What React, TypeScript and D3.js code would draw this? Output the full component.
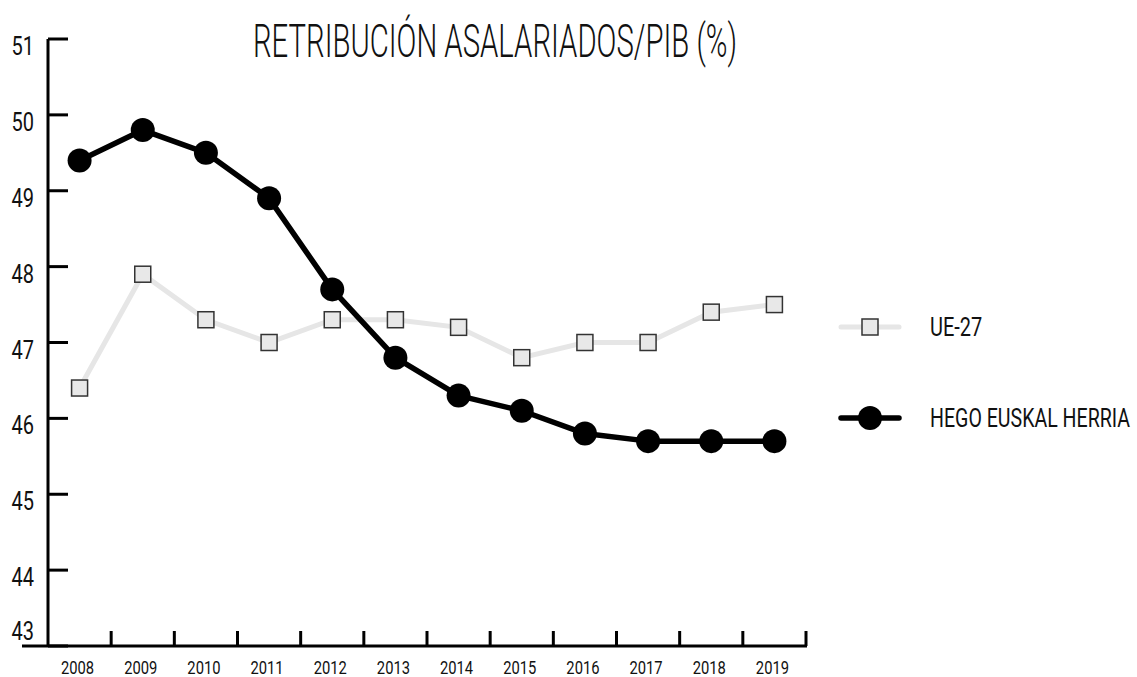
import React from 'react';
import * as d3 from 'd3';

const years = ['2008', '2009', '2010', '2011', '2012', '2013', '2014', '2015', '2016', '2017', '2018', '2019'];
const ue27 = [46.4, 47.9, 47.3, 47.0, 47.3, 47.3, 47.2, 46.8, 47.0, 47.0, 47.4, 47.5];
const hego = [49.4, 49.8, 49.5, 48.9, 47.7, 46.8, 46.3, 46.1, 45.8, 45.7, 45.7, 45.7];
const yTicks = [43, 44, 45, 46, 47, 48, 49, 50, 51];

const FONT = "Roboto, 'Liberation Sans', sans-serif";

// narrow text: the original uses a condensed face we don't have, so squeeze it
function Narrow(props: { x: number; y: number; size: number; anchor?: string; sx?: number; children: any }) {
  const { x, y, size, anchor, sx, children } = props;
  return (
    <text
      transform={`translate(${x},${y}) scale(${sx || 0.8},1)`}
      textAnchor={anchor || 'start'}
      fontFamily={FONT}
      fontSize={size}
      fill="#111"
    >
      {children}
    </text>
  );
}

export default function App() {
  const W = 1137;
  const H = 677;

  const x = d3.scaleBand().domain(years).range([48, 806]);
  const y = d3.scaleLinear().domain([43, 51]).range([646, 39]);
  const cx = (d: string) => (x(d) || 0) + x.bandwidth() / 2;

  const line = d3
    .line<number>()
    .x((d, i) => cx(years[i]))
    .y((d) => y(d));

  const tickXs = years.map((d) => (x(d) || 0) + x.bandwidth());

  return (
    <svg width={W} height={H} style={{ position: 'absolute', left: 0, top: 0, background: '#fff' }}>
      <text
        x={253}
        y={57}
        textLength={484}
        lengthAdjust="spacingAndGlyphs"
        fontFamily={FONT}
        fontWeight={300}
        fontSize={46}
        fill="#111"
      >
        RETRIBUCIÓN ASALARIADOS/PIB (%)
      </text>

      {/* y axis */}
      <line x1={48} x2={48} y1={y(51)} y2={y(43)} stroke="#000" strokeWidth={3} />
      {yTicks.map((t) => (
        <g key={t}>
          <line x1={48} x2={68} y1={y(t)} y2={y(t)} stroke="#000" strokeWidth={3} />
          <Narrow x={34} y={Math.min(y(t) + 16, 640)} size={25} anchor="end">
            {t}
          </Narrow>
        </g>
      ))}

      {/* x axis */}
      <line x1={22} x2={807} y1={646} y2={646} stroke="#000" strokeWidth={3} />
      {tickXs.map((tx, i) => (
        <line key={i} x1={tx} x2={tx} y1={646} y2={631} stroke="#000" strokeWidth={3} />
      ))}
      {years.map((d) => (
        <Narrow key={d} x={cx(d) - 2} y={674} size={18} anchor="middle" sx={0.82}>
          {d}
        </Narrow>
      ))}

      {/* UE-27 */}
      <path d={line(ue27) || ''} fill="none" stroke="#e6e6e6" strokeWidth={5} />
      {ue27.map((v, i) => (
        <rect
          key={i}
          x={cx(years[i]) - 8}
          y={y(v) - 8}
          width={16}
          height={16}
          fill="#e8e8e8"
          stroke="#333"
          strokeWidth={1.5}
        />
      ))}

      {/* HEGO EUSKAL HERRIA */}
      <path d={line(hego) || ''} fill="none" stroke="#000" strokeWidth={5.5} strokeLinejoin="round" />
      {hego.map((v, i) => (
        <circle key={i} cx={cx(years[i])} cy={y(v)} r={12} fill="#000" />
      ))}

      {/* legend */}
      <line x1={841} x2={899} y1={327} y2={327} stroke="#e6e6e6" strokeWidth={5} strokeLinecap="round" />
      <rect x={862} y={319} width={16} height={16} fill="#e8e8e8" stroke="#333" strokeWidth={1.5} />
      <Narrow x={930} y={336} size={25}>
        UE-27
      </Narrow>
      <line x1={841} x2={899} y1={418} y2={418} stroke="#000" strokeWidth={5.5} strokeLinecap="round" />
      <circle cx={870} cy={418} r={12} fill="#000" />
      <text
        x={930}
        y={427}
        textLength={200}
        lengthAdjust="spacingAndGlyphs"
        fontFamily={FONT}
        fontSize={25}
        fill="#111"
      >
        HEGO EUSKAL HERRIA
      </text>
    </svg>
  );
}
